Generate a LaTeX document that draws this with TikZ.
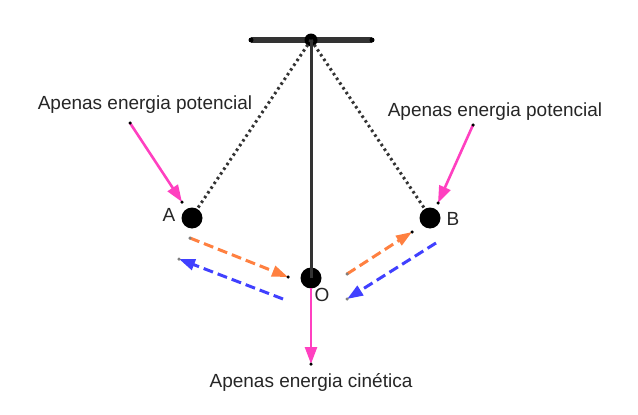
\documentclass[tikz,border=0pt]{standalone}
\usepackage{fontspec}
\setmainfont{Liberation Sans}
\usetikzlibrary{arrows.meta}
\definecolor{pinkc}{RGB}{255,64,192}
\definecolor{orangec}{RGB}{255,128,64}
\definecolor{bluec}{RGB}{64,64,255}
\definecolor{rodc}{RGB}{51,51,51}
\tikzset{
  ball/.style={circle,fill=black,inner sep=0pt,minimum size=21pt},
  pt/.style={circle,fill=black,inner sep=0pt,minimum size=3.5pt},
  gpt/.style={circle,fill=gray,inner sep=0pt,minimum size=3.5pt},
  lbl/.style={inner sep=0pt,font=\fontsize{19}{22}\selectfont,text=black!85},
  pinkarrow/.style={draw=pinkc,line width=2.6pt,-{Triangle[length=17pt,width=12pt]}},
  orangearrow/.style={draw=orangec,line width=3pt,dash pattern=on 10pt off 5pt,-{Triangle[length=16pt,width=11pt]}},
  bluearrow/.style={draw=bluec,line width=3pt,dash pattern=on 10pt off 5pt,-{Triangle[length=16pt,width=11pt]}},
  dotline/.style={draw=rodc,line width=3pt,dash pattern=on 2.5pt off 3.2pt},
}
\begin{document}
\begin{tikzpicture}[x=1pt,y=-1pt]
\useasboundingbox (0,0) rectangle (638,415);
% bar
\coordinate (barL) at (251,40);
\coordinate (barR) at (372,40);
\draw[rodc,line width=5.5pt] (barL) -- (barR);
\node[circle,fill=black,inner sep=0pt,minimum size=5pt] (bl) at (barL) {};
\node[circle,fill=black,inner sep=0pt,minimum size=5pt] (br) at (barR) {};
% pivot, rod
\node[circle,fill=black,inner sep=0pt,minimum size=13pt] (P) at (311,40) {};
\node[ball] (O) at (311,278) {};
\draw[rodc,line width=3pt] (P.center) -- (O.center);
% balls
\node[ball] (A) at (192,218) {};
\node[ball] (B) at (430,218) {};
\draw[dotline] (P.center) -- (A.60);
\draw[dotline] (P.center) -- (B.120);
% labels of points
\node[lbl,anchor=center] (lA) at (169,215) {A};
\node[lbl,anchor=center] (lB) at (453,219) {B};
\node[lbl,anchor=center] (lO) at (322,295) {O};
% texts
\node[lbl] (tL) at (145,105) {Apenas energia potencial};
\node[lbl] (tR) at (495,112) {Apenas energia potencial};
\node[lbl] (tB) at (311,382) {Apenas energia cinética};
% pink arrows
\coordinate (pL1) at (130,123);
\coordinate (pL2) at (182,202);
\coordinate (pR1) at (473,125);
\coordinate (pR2) at (438,203);
\coordinate (pB2) at (311,364);
\draw[pinkarrow] (pL1) -- (pL2);
\draw[pinkarrow] (pR1) -- (pR2);
\draw[pinkarrow] (O.center) ++(0,10) -- (pB2);
\node[pt] at (pL1) {};
\node[pt] at (pL2) {};
\node[pt] at (pR1) {};
\node[pt] at (pR2) {};
\node[pt] at (pB2) {};
% orange arrows
\coordinate (oL1) at (190,238);
\coordinate (oL2) at (288,277);
\coordinate (oR1) at (347,274);
\coordinate (oR2) at (412,232);
\draw[orangearrow] (oL1) -- (oL2);
\draw[orangearrow] (oR1) -- (oR2);
\node[gpt] at (oL1) {};
\node[pt] at (oL2) {};
\node[gpt] at (oR1) {};
\node[pt] at (oR2) {};
% blue arrows
\coordinate (bL1) at (283,299);
\coordinate (bL2) at (179,259);
\coordinate (bR1) at (436,243);
\coordinate (bR2) at (347,299);
\draw[bluearrow] (bL1) -- (bL2);
\draw[bluearrow] (bR1) -- (bR2);
\node[gpt] at (bL2) {};
\node[gpt] at (bR2) {};
\end{tikzpicture}
\end{document}
